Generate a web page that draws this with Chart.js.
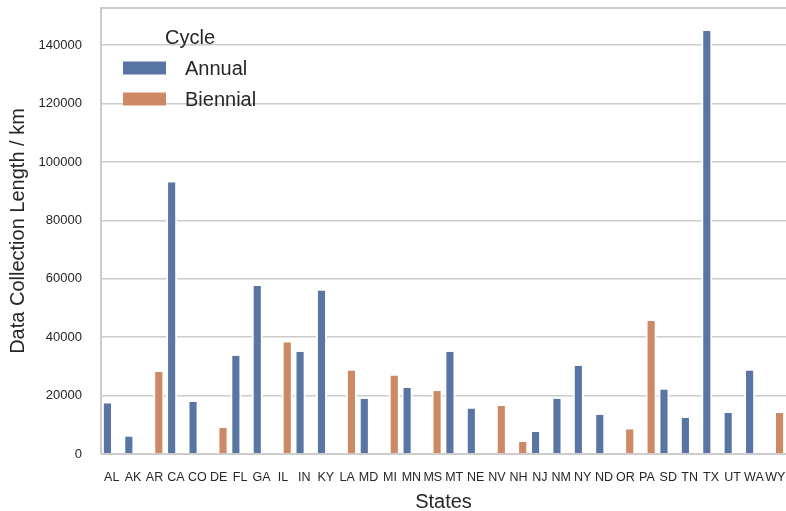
<!DOCTYPE html>
<html>
<head>
<meta charset="utf-8">
<script src="https://cdn.jsdelivr.net/npm/chart.js@4"></script>
<style>
  html, body { margin: 0; padding: 0; background: #ffffff; }
  #wrap { width: 786px; height: 511px; }
</style>
</head>
<body>
<div id="wrap"><canvas id="lengthChart" width="786" height="511"></canvas></div>
<script>
// states on the x axis
const states = ["AL", "AK", "AR", "CA", "CO", "DE", "FL", "GA", "IL", "IN", "KY", "LA", "MD", "MI", "MN", "MS",
  "MT", "NE", "NV", "NH", "NJ", "NM", "NY", "ND", "OR", "PA", "SD", "TN", "TX", "UT", "WA", "WY"]

// data collection length (km), one value per state, null where the state is in the other cycle
const annualKm = [17400, 6000, null, 93000, 17900, null, 33600, 57500, null, 35000, 56000, null, 18900, null, 22600, null,
  35000, 15600, null, null, 7500, 18900, 30200, 13400, null, null, 22100, 12400, 144800, 14000, 28600, null]
const biennialKm = [null, null, 28200, null, null, 9000, null, null, 38300, null, null, 28600, null, 26900, null, 21600,
  null, null, 16400, 4100, null, null, null, null, 8500, 45500, null, null, null, null, null, 14000]

const yTicks = [0, 20000, 40000, 60000, 80000, 100000, 120000, 140000]
const cycleNames = ["Annual", "Biennial"]
const cycleColors = ["#5975a4", "#cc8963"]

const FONT = "'Liberation Sans', Arial, sans-serif"
const TEXT = "#262626"
const GRID = "#cccccc"

// 축 라벨 때문에 생기는 자동 여백 제거
function noAutoPadding(scale) {
  scale.paddingTop = 0
  scale.paddingBottom = 0
  scale.paddingLeft = 0
  scale.paddingRight = 0
}

// 축 테두리(spine) 그리기
const spinePlugin = {
  id: "spines",
  afterDraw(chart) {
    const { ctx, chartArea } = chart
    ctx.save()
    ctx.strokeStyle = GRID
    ctx.lineWidth = 2
    ctx.beginPath()
    ctx.moveTo(chartArea.left, chartArea.bottom)
    ctx.lineTo(chartArea.left, chartArea.top)
    ctx.lineTo(chartArea.right, chartArea.top)
    ctx.moveTo(chartArea.left, chartArea.bottom)
    ctx.lineTo(chartArea.right, chartArea.bottom)
    ctx.stroke()
    ctx.restore()
  },
}

// seaborn 스타일 범례 (차트 안쪽, 테두리 없음)
const cycleLegend = {
  id: "cycleLegend",
  afterDraw(chart) {
    const ctx = chart.ctx
    ctx.save()
    ctx.font = "20px " + FONT
    ctx.fillStyle = TEXT
    ctx.textBaseline = "middle"
    ctx.textAlign = "left"
    ctx.fillText("Cycle", 165, 38)
    cycleNames.forEach((name, i) => {
      const y = 68 + i * 31
      ctx.fillStyle = cycleColors[i]
      ctx.fillRect(123, y - 6.5, 43, 13)
      ctx.fillStyle = TEXT
      ctx.fillText(name, 185, y + 1)
    })
    ctx.restore()
  },
}

const ctx = document.getElementById("lengthChart")
new Chart(ctx, {
  type: "bar",
  data: {
    labels: states,
    datasets: cycleNames.map((name, i) => ({
      label: name,
      data: i === 0 ? annualKm : biennialKm,
      backgroundColor: cycleColors[i],
      borderColor: "#ffffff",
      borderWidth: { left: 2, right: 2, top: 0, bottom: 0 },
      borderSkipped: false,
      categoryPercentage: 0.8,
      barPercentage: 1.3,
    })),
  },
  options: {
    responsive: false,
    animation: false,
    layout: { padding: { top: 8, right: -2, left: 0, bottom: 0 } },
    plugins: {
      legend: { display: false },
      tooltip: { enabled: false },
    },
    scales: {
      x: {
        grid: { display: false, drawTicks: false },
        border: { display: false },
        ticks: {
          color: TEXT,
          font: { family: FONT, size: 12.5 },
          padding: 16,
          maxRotation: 0,
          autoSkip: false,
        },
        title: {
          display: true,
          text: "States",
          color: TEXT,
          font: { family: FONT, size: 20 },
          padding: { top: 0, bottom: -3 },
        },
        afterFit: (scale) => {
          scale.height = 57
          noAutoPadding(scale)
        },
      },
      y: {
        min: 0,
        max: 152700,
        afterBuildTicks: (scale) => { scale.ticks = yTicks.map((v) => ({ value: v })) },
        grid: { color: GRID, lineWidth: 1.5, drawTicks: false },
        border: { display: false },
        ticks: {
          color: TEXT,
          font: { family: FONT, size: 13 },
          padding: 19,
          callback: (v) => String(v),
        },
        title: {
          display: true,
          text: "Data Collection Length / km",
          color: TEXT,
          font: { family: FONT, size: 20 },
          padding: { top: 6, bottom: 0 },
        },
        afterFit: (scale) => {
          scale.width = 101
          noAutoPadding(scale)
        },
      },
    },
  },
  plugins: [spinePlugin, cycleLegend],
})
</script>
</body>
</html>
